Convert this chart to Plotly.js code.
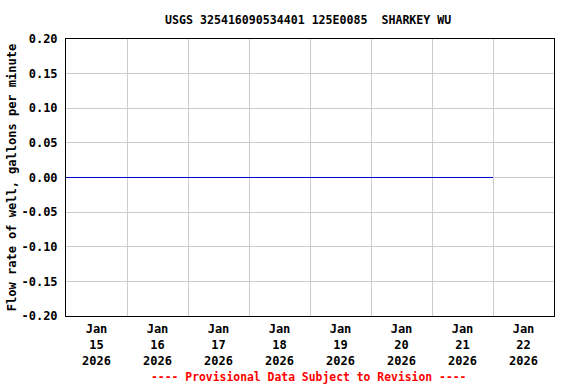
<!DOCTYPE html>
<html>
<head>
<meta charset="utf-8">
<script src="https://cdn.plot.ly/plotly-3.0.1.min.js"></script>
<style>html,body{margin:0;padding:0;background:#fff;}#chart{width:576px;height:384px;}</style>
</head>
<body>
<div id="chart"></div>
<script>
var times = ['2026-01-15 00:00','2026-01-16 00:00','2026-01-17 00:00','2026-01-18 00:00','2026-01-19 00:00','2026-01-20 00:00','2026-01-21 00:00','2026-01-22 00:00'];
var flow = [0, 0, 0, 0, 0, 0, 0, 0];
var yTicks = [-0.2, -0.15, -0.1, -0.05, 0, 0.05, 0.1, 0.15, 0.2];
var yTickText = ['-0.20', '-0.15', '-0.10', '-0.05', '0.00', '0.05', '0.10', '0.15', '0.20'];
var titleText = 'USGS 325416090534401 125E0085  SHARKEY WU';
var yTitle = 'Flow rate of well, gallons per minute';
var footer = '---- Provisional Data Subject to Revision ----';
var font = '"DejaVu Sans Mono", "Liberation Mono", monospace';

var trace = {x: times, y: flow, type: 'scatter', mode: 'lines',
  line: {color: '#0000cc', width: 1}, hoverinfo: 'skip'};

var layout = {
  width: 576, height: 384,
  margin: {l: 66, r: 22, t: 39, b: 68},
  paper_bgcolor: '#fff', plot_bgcolor: '#fff',
  showlegend: false,
  font: {family: font, size: 12, color: '#000'},
  title: {text: '<b>' + titleText + '</b>', x: 0.535, xanchor: 'center', y: 0.948, yanchor: 'middle',
    font: {family: font, size: 11.6, color: '#000'}},
  xaxis: {type: 'date', range: ['2026-01-15 00:00', '2026-01-23 00:00'],
    tick0: '2026-01-15', dtick: 86400000, ticklabelmode: 'period',
    tickformat: '<b>%b</b><br><b>%-d</b><br><b>%Y</b>',
    ticklabelstandoff: 2,
    showgrid: true, gridcolor: '#cccccc', gridwidth: 1,
    showline: true, linecolor: '#000', linewidth: 1, mirror: true,
    ticks: '', zeroline: false, fixedrange: true,
    tickfont: {family: font, size: 12, color: '#000'}},
  yaxis: {range: [-0.2, 0.2], tickmode: 'array', tickvals: yTicks,
    ticktext: yTickText.map(function (t) { return '<b>' + t + '</b>'; }),
    ticklabelstandoff: 5,
    showgrid: true, gridcolor: '#cccccc', gridwidth: 1,
    showline: true, linecolor: '#000', linewidth: 1, mirror: true,
    ticks: '', zeroline: false, fixedrange: true,
    tickfont: {family: font, size: 12, color: '#000'},
    title: {text: '<b>' + yTitle + '</b>', standoff: 2, font: {family: font, size: 12, color: '#000'}}},
  annotations: [{text: '<b>' + footer + '</b>', xref: 'paper', yref: 'paper', x: 0.496, y: -0.222,
    xanchor: 'center', yanchor: 'middle', showarrow: false,
    font: {family: font, size: 11.4, color: '#ff0000'}}]
};
Plotly.newPlot('chart', [trace], layout, {staticPlot: true, displayModeBar: false});
</script>
</body>
</html>
